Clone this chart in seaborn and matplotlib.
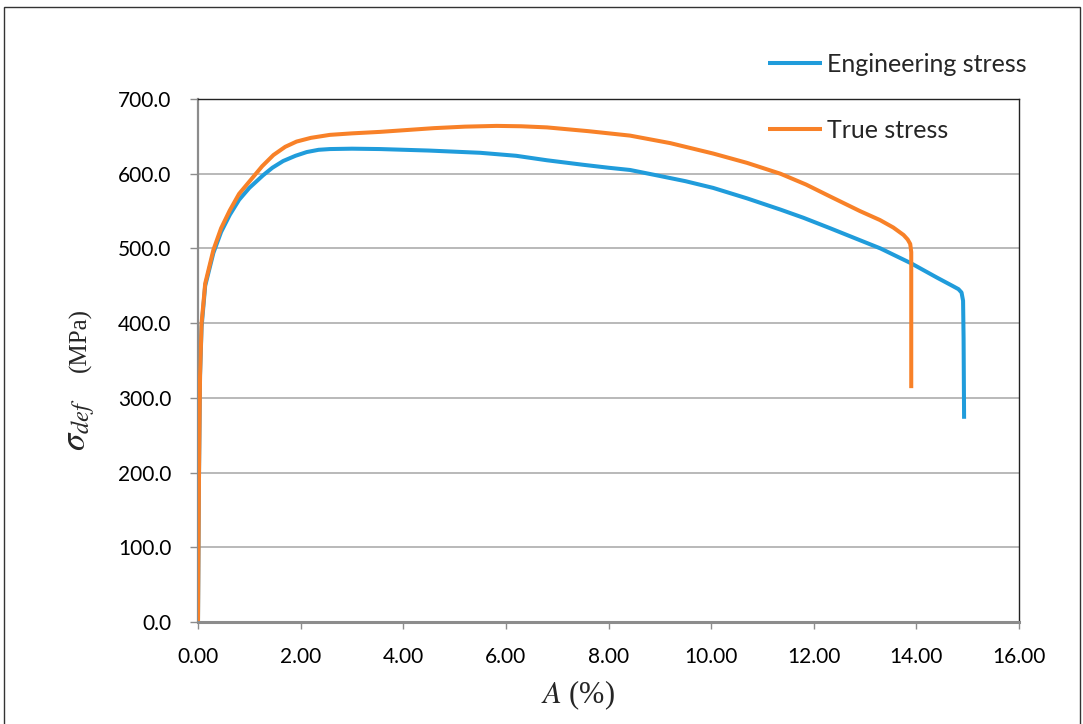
import numpy as np
import pandas as pd
import matplotlib
matplotlib.use('Agg')
import matplotlib.pyplot as plt
from matplotlib.patches import Rectangle
import seaborn as sns

# strain A (%) and stress (MPa)
eng_x = [0, 0.02, 0.04, 0.07, 0.14, 0.30, 0.45, 0.62, 0.80, 1.00, 1.27, 1.45, 1.66,
         1.90, 2.12, 2.35, 2.57, 3.00, 3.55, 4.50, 5.50, 6.20, 6.80, 7.50, 8.00,
         8.42, 9.00, 9.50, 10.04, 10.70, 11.35, 11.80, 12.32, 12.90, 13.30, 13.90,
         14.40, 14.70, 14.82, 14.88, 14.91, 14.92, 14.93]
eng_y = [0, 200, 330, 395, 450, 494, 522, 545, 565, 581, 598, 608, 617,
         624, 629, 632, 633, 633.5, 633, 631, 628, 624, 618, 612, 608,
         605, 597, 590, 581, 567, 552, 541, 527, 511, 500, 480,
         461, 450, 445.5, 441, 430, 380, 272]

true_x = [0, 0.02, 0.04, 0.07, 0.14, 0.30, 0.45, 0.62, 0.80, 1.08, 1.25, 1.47, 1.70,
          1.92, 2.20, 2.57, 3.00, 3.55, 4.60, 5.20, 5.82, 6.30, 6.80, 7.60, 8.42,
          9.20, 10.04, 10.70, 11.35, 11.85, 12.32, 12.90, 13.29, 13.55, 13.75,
          13.83, 13.88, 13.90, 13.90]
true_y = [0, 200, 330, 400, 453, 498, 527, 551, 573, 596, 610, 625, 636,
          643, 648, 652, 654, 656, 661, 663, 664, 663.5, 662, 657, 651,
          641, 627, 614.5, 600, 585.5, 569.5, 550, 538, 528, 518,
          512, 506, 495, 313]

series_names = ['Engineering stress', 'True stress']
series_colors = ['#209CDB', '#F88128']

x_ticks = np.arange(0, 16.01, 2)
y_ticks = np.arange(0, 700.1, 100)

sns.set_theme(style='white')
plt.rcParams['font.family'] = ['Lato', 'DejaVu Sans']
plt.rcParams['mathtext.fontset'] = 'stix'

W, H = 1083, 724
fig = plt.figure(figsize=(W / 100, H / 100), dpi=100)
ax = fig.add_axes([198 / W, 1 - 622 / H, (1019 - 198) / W, (622 - 99) / H])

for xs, ys, name, col in zip([eng_x, true_x], [eng_y, true_y], series_names, series_colors):
    df = pd.DataFrame({'A': xs, 'stress': ys})
    sns.lineplot(data=df, x='A', y='stress', sort=False, estimator=None,
                 color=col, linewidth=2.9, label=name, ax=ax, zorder=3,
                 solid_joinstyle='round', solid_capstyle='butt')

ax.set_xlim(0, 16)
ax.set_ylim(0, 700)
ax.set_xticks(x_ticks)
ax.set_yticks(y_ticks)
ax.set_xticklabels([f'{v:.2f}' for v in x_ticks])
ax.set_yticklabels([f'{v:.1f}' for v in y_ticks])
ax.tick_params(axis='x', direction='out', length=5, width=1, color='#8c8c8c',
               pad=13, labelsize=15, labelcolor='black', bottom=True)
ax.tick_params(axis='y', direction='out', length=6, width=1, color='#8c8c8c',
               pad=13, labelsize=15, labelcolor='black', left=True)

ax.grid(axis='y', color='#a6a6a6', linewidth=1.1)
ax.grid(axis='x', visible=False)
ax.set_axisbelow(True)

ax.spines['left'].set_color('#8c8c8c')
ax.spines['left'].set_linewidth(1.6)
ax.spines['bottom'].set_color('#8c8c8c')
ax.spines['bottom'].set_linewidth(2.2)
ax.spines['bottom'].set_zorder(4)
ax.spines['top'].set_color('#222222')
ax.spines['top'].set_linewidth(1.0)
ax.spines['right'].set_color('#222222')
ax.spines['right'].set_linewidth(1.0)

ax.set_xlabel(r'$A$ (%)', family='Liberation Serif', fontsize=22)
ax.xaxis.set_label_coords((578 - 198) / 821, -(695 - 622) / 523, transform=ax.transAxes)
ax.xaxis.label.set_va('center')

# y label: sigma with subscript, then the unit
ax.set_ylabel('')
fig.text(81 / W, 1 - 425 / H, r'$\sigma_{def}$', fontsize=25, rotation=90,
         ha='center', va='center')
fig.text(80 / W, 1 - 340 / H, '(MPa)', family='Liberation Serif', fontsize=18,
         rotation=90, ha='center', va='center')

leg = ax.legend(loc='upper left', bbox_to_anchor=(768 / W, 1 - 53 / H),
                bbox_transform=fig.transFigure, frameon=False, fontsize=18,
                handlelength=2.16, handletextpad=0.19, labelspacing=1.72,
                borderpad=0, borderaxespad=0)
for line in leg.get_lines():
    line.set_linewidth(2.9)

# outer chart border
fig.patches.append(Rectangle((4 / W, -0.05), 1076 / W, 1.05 - 7 / H,
                             transform=fig.transFigure, fill=False,
                             edgecolor='#333333', linewidth=1.0))

fig.savefig('out.png', dpi=100)
